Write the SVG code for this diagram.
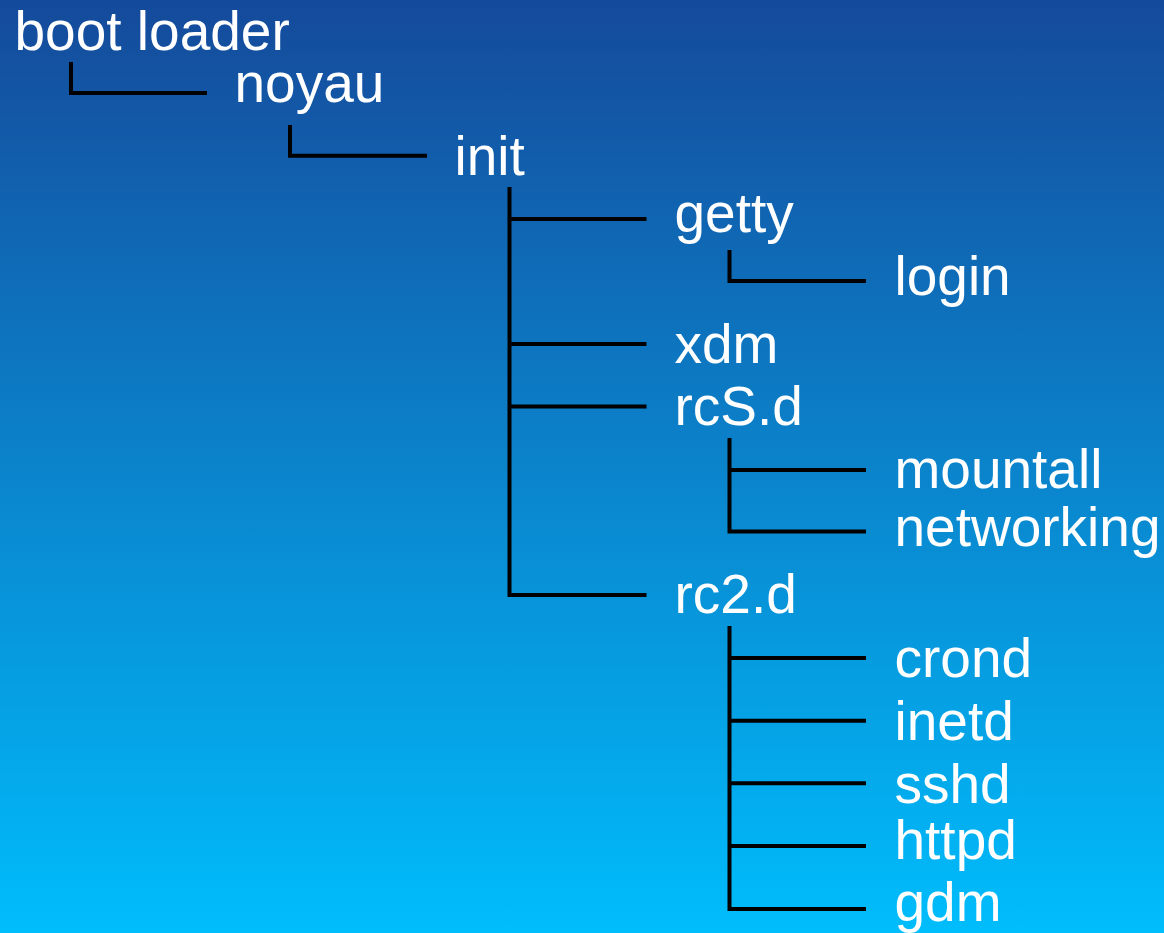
<svg xmlns="http://www.w3.org/2000/svg" width="1164" height="933" viewBox="0 0 1164 933">
  <defs>
    <linearGradient id="bg" x1="0" y1="0" x2="0" y2="1">
      <stop offset="0" stop-color="#154a9b"/>
      <stop offset="1" stop-color="#00bdfc"/>
    </linearGradient>
    <style>
      .lbl { font-family: "Liberation Sans", Arial, sans-serif; font-size: 55px; fill: #ffffff; }
      .conn { fill: none; stroke: #000000; stroke-width: 4; stroke-linecap: butt; stroke-linejoin: miter; }
    </style>
  </defs>
  <rect x="0" y="0" width="1164" height="933" fill="url(#bg)"/>

  <g id="connectors">
    <path class="conn" d="M71 62 V93 H207"/>
    <path class="conn" d="M290 125 V155.8 H427"/>
    <path class="conn" d="M509.5 187 V595 H646.5"/>
    <path class="conn" d="M509.5 219 H646.5"/>
    <path class="conn" d="M509.5 344 H646.5"/>
    <path class="conn" d="M509.5 406.5 H646.5"/>
    <path class="conn" d="M729.5 250 V281 H866"/>
    <path class="conn" d="M729.5 438 V531.5 H866"/>
    <path class="conn" d="M729.5 470 H866"/>
    <path class="conn" d="M729.5 626 V909 H866"/>
    <path class="conn" d="M729.5 658 H866"/>
    <path class="conn" d="M729.5 720.7 H866"/>
    <path class="conn" d="M729.5 783.3 H866"/>
    <path class="conn" d="M729.5 846 H866"/>
  </g>

  <g id="boot-loader"><text class="lbl" x="14.5" y="50">boot loader</text></g>
  <g id="noyau"><text class="lbl" x="234.5" y="102">noyau</text></g>
  <g id="init"><text class="lbl" x="454.5" y="175">init</text></g>
  <g id="getty"><text class="lbl" x="674.5" y="232">getty</text></g>
  <g id="login"><text class="lbl" x="894.5" y="295">login</text></g>
  <g id="xdm"><text class="lbl" x="674.5" y="363">xdm</text></g>
  <g id="rcS-d"><text class="lbl" x="674.5" y="425">rcS.d</text></g>
  <g id="mountall"><text class="lbl" x="894.5" y="488">mountall</text></g>
  <g id="networking"><text class="lbl" x="894.5" y="546">networking</text></g>
  <g id="rc2-d"><text class="lbl" x="674.5" y="613">rc2.d</text></g>
  <g id="crond"><text class="lbl" x="894.5" y="677">crond</text></g>
  <g id="inetd"><text class="lbl" x="894.5" y="740">inetd</text></g>
  <g id="sshd"><text class="lbl" x="894.5" y="803">sshd</text></g>
  <g id="httpd"><text class="lbl" x="894.5" y="859">httpd</text></g>
  <g id="gdm"><text class="lbl" x="894.5" y="921">gdm</text></g>
</svg>
